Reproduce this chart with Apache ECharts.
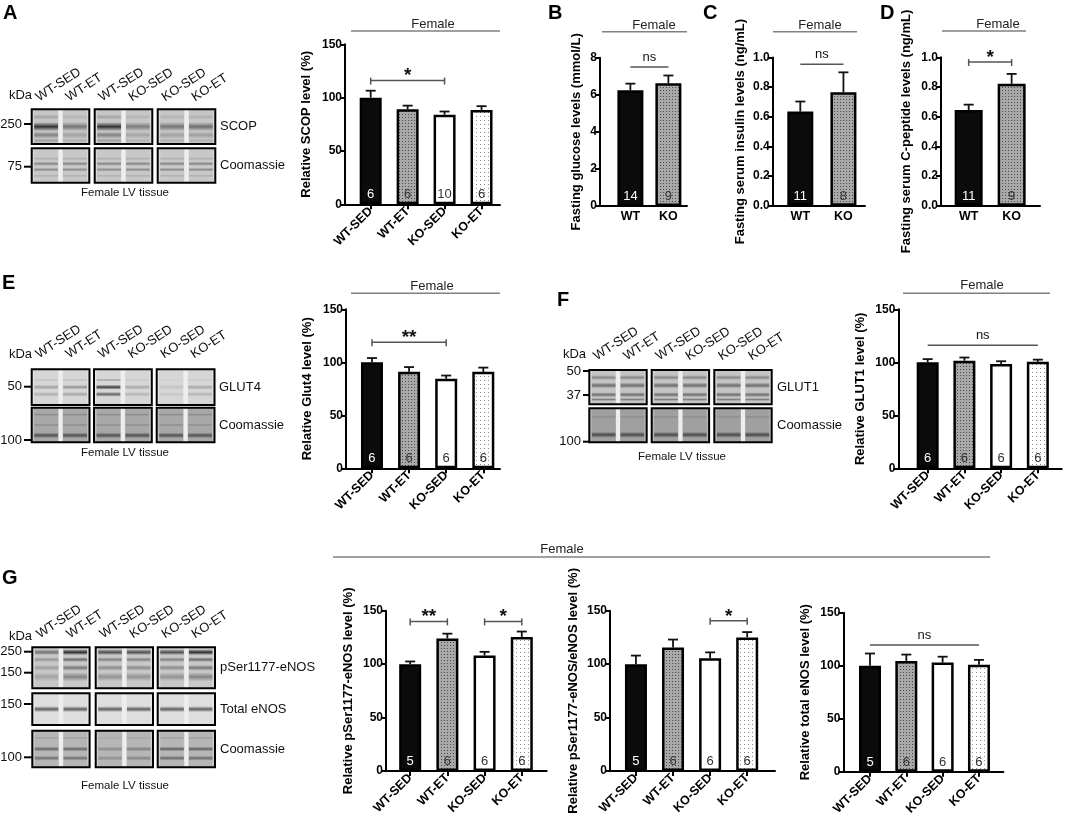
<!DOCTYPE html>
<html><head><meta charset="utf-8">
<script src="https://cdn.jsdelivr.net/npm/echarts@6.0.0/dist/echarts.min.js"></script>
<style>html,body{margin:0;padding:0;background:#fff}#c{width:1065px;height:824px}</style>
</head><body><div id="c"></div>
<script>
// ---------------- DATA ----------------
const cats4 = ['WT-SED', 'WT-ET', 'KO-SED', 'KO-ET'];
const cats2 = ['WT', 'KO'];

const scopMean = [100, 89, 84, 88.5];
const scopSem = [6.5, 3.5, 3, 3.5];
const scopN = [6, 6, 10, 6];

const glucoseMean = [6.25, 6.62];
const glucoseSem = [0.35, 0.42];
const glucoseN = [14, 9];

const insulinMean = [0.635, 0.765];
const insulinSem = [0.068, 0.135];
const insulinN = [11, 8];

const cpepMean = [0.645, 0.822];
const cpepSem = [0.036, 0.066];
const cpepN = [11, 9];

const glut4Mean = [100, 91, 84.5, 91];
const glut4Sem = [4, 4.5, 3, 4];
const glut4N = [6, 6, 6, 6];

const glut1Mean = [100, 101.5, 98.5, 100.5];
const glut1Sem = [3, 3, 2.5, 2];
const glut1N = [6, 6, 6, 6];

const peNOSMean = [100, 124, 108, 125.5];
const peNOSSem = [2.5, 4.5, 3.5, 5];
const peNOSN = [5, 6, 6, 6];

const ratioMean = [100, 115.5, 105.5, 125];
const ratioSem = [8, 7.5, 5.5, 5];
const ratioN = [5, 6, 6, 6];

const teNOSMean = [100, 104.5, 103, 101];
const teNOSSem = [11.5, 6, 5.5, 4.5];
const teNOSN = [5, 6, 6, 6];

// significance: [fromIndex, toIndex, yValue, text, endTicks]
const sigA = [[0, 2, 116, '*', true]];
const sigB = [[0, 1, 7.5, 'ns', false]];
const sigC = [[0, 1, 0.955, 'ns', false]];
const sigD = [[0, 1, 0.968, '*', true]];
const sigE = [[0, 2, 119, '**', true]];
const sigF = [[0, 3, 116, 'ns', false]];
const sigG1 = [[0, 1, 140, '**', true], [2, 3, 140, '*', true]];
const sigG2 = [[2, 3, 140.5, '*', true]];
const sigG3 = [[0, 3, 119.5, 'ns', false]];

const laneLabels = ['WT-SED', 'WT-ET', 'WT-SED', 'KO-SED', 'KO-SED', 'KO-ET'];

// ---------------- STYLE ----------------
const FONT = "'Liberation Sans', Arial, Helvetica, sans-serif";
function pattern(bg, dot, step) {
  const c = document.createElement('canvas');
  c.width = c.height = step;
  const g = c.getContext('2d');
  g.fillStyle = bg; g.fillRect(0, 0, step, step);
  g.fillStyle = dot; g.fillRect(0, 0, 1, 1);
  return { image: c, repeat: 'repeat' };
}
const BLACK = '#0b0b0b';
const DARK = pattern('#a9a9a9', '#4a4a4a', 3);
const WHITE = '#ffffff';
const LIGHT = pattern('#ffffff', '#8a8a8a', 4);
const fill4 = [BLACK, DARK, WHITE, LIGHT];
const fill2 = [BLACK, DARK];

const panels = [
  { cats: cats4, mean: scopMean, sem: scopSem, n: scopN, sig: sigA, fills: fill4, title: 'Relative SCOP level (%)', yMax: 150, yStep: 50, dec: 0, l: 345, r: 500, t: 44.3, b: 204.3, xMin: -0.695, xMax: 3.5, bw: 22, gap: 32 },
  { cats: cats2, mean: glucoseMean, sem: glucoseSem, n: glucoseN, sig: sigB, fills: fill2, title: 'Fasting glucose levels (mmol/L)', yMax: 8, yStep: 2, dec: 0, l: 600, r: 687, t: 57.7, b: 206, xMin: -0.8, xMax: 1.49, bw: 26, gap: 17 },
  { cats: cats2, mean: insulinMean, sem: insulinSem, n: insulinN, sig: sigC, fills: fill2, title: 'Fasting serum insulin levels (ng/mL)', yMax: 1.0, yStep: 0.2, dec: 1, l: 772.7, r: 865, t: 57.5, b: 205.7, xMin: -0.64, xMax: 1.5, bw: 26, gap: 26 },
  { cats: cats2, mean: cpepMean, sem: cpepSem, n: cpepN, sig: sigD, fills: fill2, title: 'Fasting serum C-peptide levels (ng/mL)', yMax: 1.0, yStep: 0.2, dec: 1, l: 941, r: 1040, t: 57.3, b: 205.7, xMin: -0.644, xMax: 1.66, bw: 28, gap: 28 },
  { cats: cats4, mean: glut4Mean, sem: glut4Sem, n: glut4N, sig: sigE, fills: fill4, title: 'Relative Glut4 level (%)', yMax: 150, yStep: 50, dec: 0, l: 346, r: 500, t: 309.3, b: 468.3, xMin: -0.7, xMax: 3.45, bw: 22, gap: 32 },
  { cats: cats4, mean: glut1Mean, sem: glut1Sem, n: glut1N, sig: sigF, fills: fill4, title: 'Relative GLUT1 level (%)', yMax: 150, yStep: 50, dec: 0, l: 898.3, r: 1061.7, t: 309.3, b: 468.3, xMin: -0.8, xMax: 3.65, bw: 22, gap: 31 },
  { cats: cats4, mean: peNOSMean, sem: peNOSSem, n: peNOSN, sig: sigG1, fills: fill4, title: 'Relative pSer1177-eNOS level (%)', yMax: 150, yStep: 50, dec: 0, l: 386, r: 546.7, t: 610.7, b: 771, xMin: -0.65, xMax: 3.67, bw: 22, gap: 31 },
  { cats: cats4, mean: ratioMean, sem: ratioSem, n: ratioN, sig: sigG2, fills: fill4, title: 'Relative pSer1177-eNOS/eNOS level (%)', yMax: 150, yStep: 50, dec: 0, l: 610, r: 775, t: 610.7, b: 771, xMin: -0.7, xMax: 3.75, bw: 22, gap: 30 },
  { cats: cats4, mean: teNOSMean, sem: teNOSSem, n: teNOSN, sig: sigG3, fills: fill4, title: 'Relative total eNOS level (%)', yMax: 150, yStep: 50, dec: 0, l: 843.3, r: 1003.3, t: 612.7, b: 771.7, xMin: -0.735, xMax: 3.67, bw: 22, gap: 31 }
];

const grid = [], xAxis = [], yAxis = [], series = [];
panels.forEach((p, i) => {
  const four = p.cats.length === 4;
  const idx = p.cats.map((_, k) => k);
  grid.push({ left: p.l, top: p.t, width: p.r - p.l, height: p.b - p.t, containLabel: false, outerBoundsMode: 'none' });
  xAxis.push({
    type: 'value', gridIndex: i, min: p.xMin, max: p.xMax,
    axisLine: { show: true, onZero: false, lineStyle: { color: '#000', width: 2 } },
    axisTick: { show: four, customValues: idx, length: 5, lineStyle: { color: '#000', width: 2 } },
    axisLabel: { customValues: idx, formatter: v => p.cats[Math.round(v)], rotate: four ? 45 : 0, margin: four ? 5 : 4,
      fontFamily: FONT, fontSize: 12.5, fontWeight: 'bold', color: '#000' },
    splitLine: { show: false }
  });
  yAxis.push({
    type: 'value', gridIndex: i, min: 0, max: p.yMax, interval: p.yStep,
    axisLine: { show: true, onZero: false, lineStyle: { color: '#000', width: 2 } },
    axisTick: { show: true, length: 5, lineStyle: { color: '#000', width: 2 } },
    axisLabel: { fontFamily: FONT, fontSize: 12, fontWeight: 'bold', color: '#000', margin: 3,
      formatter: v => v.toFixed(p.dec) },
    splitLine: { show: false },
    name: p.title, nameLocation: 'middle', nameGap: p.gap,
    nameTextStyle: { fontFamily: FONT, fontSize: 13, fontWeight: 'bold', color: '#000' }
  });
  series.push({
    type: 'bar', xAxisIndex: i, yAxisIndex: i, barWidth: p.bw, z: 3,
    itemStyle: { borderColor: '#000', borderWidth: 2.5 },
    label: { show: true, position: 'insideBottom', distance: 3, fontFamily: FONT, fontSize: 13,
      formatter: prm => String(p.n[prm.dataIndex]) },
    data: p.mean.map((v, k) => ({ value: [k, v], itemStyle: { color: p.fills[k] },
      label: { color: k === 0 ? '#ffffff' : '#333333' } }))
  });
  series.push({
    type: 'custom', xAxisIndex: i, yAxisIndex: i, z: 2,
    encode: { x: 0, y: 1 },
    data: p.mean.map((v, k) => [k, v, p.sem[k]]),
    renderItem: (params, api) => {
      const x = api.value(0), m = api.value(1), e = api.value(2);
      const p0 = api.coord([x, m]), p1 = api.coord([x, m + e]);
      const st = { stroke: '#111', lineWidth: 1.8 };
      return { type: 'group', children: [
        { type: 'line', shape: { x1: p0[0], y1: p0[1], x2: p1[0], y2: p1[1] }, style: st },
        { type: 'line', shape: { x1: p1[0] - 5, y1: p1[1], x2: p1[0] + 5, y2: p1[1] }, style: st }
      ] };
    }
  });
  series.push({
    type: 'custom', xAxisIndex: i, yAxisIndex: i, z: 4,
    encode: { x: [0, 1], y: 2 },
    data: p.sig.map(s => [s[0], s[1], s[2]]),
    renderItem: (params, api) => {
      const s = p.sig[params.dataIndex];
      const a = api.coord([s[0], s[2]]), b = api.coord([s[1], s[2]]);
      const st = { stroke: '#555', lineWidth: 1.5 };
      const ch = [{ type: 'line', shape: { x1: a[0], y1: a[1], x2: b[0], y2: b[1] }, style: st }];
      if (s[4]) {
        ch.push({ type: 'line', shape: { x1: a[0], y1: a[1] - 3, x2: a[0], y2: a[1] + 4 }, style: st });
        ch.push({ type: 'line', shape: { x1: b[0], y1: b[1] - 3, x2: b[0], y2: b[1] + 4 }, style: st });
      }
      const star = s[3] !== 'ns';
      ch.push({ type: 'text', x: (a[0] + b[0]) / 2, y: a[1] + (star ? 5 : -3),
        style: { text: s[3], textAlign: 'center', textVerticalAlign: 'bottom',
          font: star ? `bold 19px ${FONT}` : `13px ${FONT}`, fill: '#111' } });
      return { type: 'group', children: ch };
    }
  });
});

// ---------------- GRAPHICS (letters, headers, blots) ----------------
const els = [];
function txt(text, x, y, o = {}) {
  els.push({ type: 'text', x, y, rotation: o.rot || 0,
    style: { text, font: `${o.weight || 'normal'} ${o.size || 13}px ${FONT}`, fill: o.fill || '#111',
      textAlign: o.align || 'left', textVerticalAlign: o.va || 'middle' } });
}
function line(x1, y1, x2, y2, stroke, w) {
  els.push({ type: 'line', shape: { x1, y1, x2, y2 }, style: { stroke, lineWidth: w } });
}
[['A', 3, 3], ['B', 548, 3], ['C', 703, 3], ['D', 880, 3], ['E', 2, 273], ['F', 557, 290], ['G', 2, 568]]
  .forEach(([t, x, y]) => txt(t, x, y, { weight: 'bold', size: 20, va: 'top', fill: '#000' }));

[[433, 24, 351, 500, 31], [654, 25, 602, 687, 31.7], [820, 25, 773, 857, 31.7], [998, 24, 942, 1026, 31],
 [432, 286.7, 351, 500, 293.3], [982, 285.7, 903, 1050, 293.3], [562, 549, 333, 990, 557]]
  .forEach(([tx, ty, x1, x2, ly]) => { txt('Female', tx, ty, { align: 'center', fill: '#222' }); line(x1, ly, x2, ly, '#808080', 1.5); });

const kinds = {
  scop: { bg: '#d6d6d6', lane: '#c6c6c6', bands: [[0.22, 5, 0.2], [0.5, 9, 0.85], [0.74, 7, 0.4], [0.9, 5, 0.2]], dark: [[1, 0.55], [1, 0.5], [0.55, 0.6]] },
  coomA: { bg: '#d8d8d8', lane: '#c8c8c8', bands: [[0.3, 3, 0.15], [0.45, 4, 0.4], [0.62, 4, 0.35], [0.8, 3, 0.15]] },
  glut4: { bg: '#e2e2e2', lane: '#d6d6d6', bands: [[0.3, 3, 0.12], [0.5, 5, 0.35], [0.7, 5, 0.25]], dark: [[0.8, 1], [2.4, 0.7], [0.3, 0.7]] },
  coomE: { bg: '#bdbdbd', lane: '#a8a8a8', bands: [[0.2, 3, 0.2], [0.5, 3, 0.2], [0.8, 6, 0.6]] },
  glut1: { bg: '#d6d6d6', lane: '#c4c4c4', bands: [[0.22, 5, 0.35], [0.45, 6, 0.5], [0.72, 5, 0.5], [0.86, 3, 0.4]] },
  coomF: { bg: '#b4b4b4', lane: '#a0a0a0', bands: [[0.25, 3, 0.15], [0.78, 6, 0.65]] },
  pser: { bg: '#dadada', lane: '#c8c8c8', bands: [[0.12, 6, 0.7], [0.3, 5, 0.4], [0.5, 6, 0.35], [0.72, 9, 0.3]], dark: [[0.7, 1.3], [1, 1], [1, 1.3]] },
  tenos: { bg: '#e8e8e8', lane: '#dedede', bands: [[0.5, 6, 0.65]] },
  coomG: { bg: '#cacaca', lane: '#b6b6b6', bands: [[0.2, 3, 0.15], [0.5, 5, 0.5], [0.75, 5, 0.45]], dark: [[1, 1], [0.55, 0.7], [1.1, 1.1]] }
};
function bandFill(d) {
  return { type: 'linear', x: 0, y: 0, x2: 0, y2: 1, colorStops: [
    { offset: 0, color: 'rgba(25,25,25,0)' }, { offset: 0.5, color: `rgba(25,25,25,${d})` }, { offset: 1, color: 'rgba(25,25,25,0)' }] };
}
function blot(c) {
  c.rows.forEach(row => {
    const k = kinds[row.kind];
    c.boxX.forEach((bx, bi) => {
      els.push({ type: 'rect', shape: { x: bx, y: row.y, width: c.boxW, height: row.h }, style: { fill: k.bg } });
      for (let ln = 0; ln < 2; ln++) {
        const lx = bx + 2.5 + ln * c.boxW / 2, lw = c.boxW / 2 - 5;
        els.push({ type: 'rect', shape: { x: lx, y: row.y, width: lw, height: row.h }, style: { fill: k.lane } });
        k.bands.forEach(([ry, th, a]) => {
          const d = Math.min(0.95, a * (k.dark ? k.dark[bi][ln] : 1));
          els.push({ type: 'rect', shape: { x: lx, y: row.y + ry * row.h - th / 2, width: lw, height: th }, style: { fill: bandFill(d) } });
        });
      }
      els.push({ type: 'rect', shape: { x: bx + c.boxW / 2 - 2, y: row.y, width: 4, height: row.h }, style: { fill: '#eeeeee' } });
      els.push({ type: 'rect', shape: { x: bx, y: row.y, width: c.boxW, height: row.h }, style: { fill: 'none', stroke: '#000', lineWidth: 2 } });
    });
    txt(row.label, c.rightX, row.y + row.h / 2, {});
  });
  c.markers.forEach(([t, y]) => { txt(t, c.mRight, y, { align: 'right' }); line(c.mRight + 2, y, c.boxX[0], y, '#000', 2); });
  txt('kDa', c.kda[0], c.kda[1], { align: 'right' });
  c.boxX.forEach((bx, bi) => {
    [0, 1].forEach(j => txt(laneLabels[bi * 2 + j], bx + 9 + j * 30, c.laneY, { rot: 33 * Math.PI / 180, va: 'bottom' }));
  });
  txt('Female LV tissue', c.tissue[0], c.tissue[1], { align: 'center', size: 11.5 });
}
blot({ boxX: [31.7, 94.7, 157.7], boxW: 57.6,
  rows: [{ y: 109.3, h: 34.7, kind: 'scop', label: 'SCOP' }, { y: 148.3, h: 34.4, kind: 'coomA', label: 'Coomassie' }],
  markers: [['250', 124], ['75', 166.7]], mRight: 22, kda: [32, 95], laneY: 104, rightX: 220, tissue: [125, 193] });
blot({ boxX: [31.7, 94, 156.7], boxW: 57.8,
  rows: [{ y: 369.3, h: 35.7, kind: 'glut4', label: 'GLUT4' }, { y: 407.7, h: 34.6, kind: 'coomE', label: 'Coomassie' }],
  markers: [['50', 386.7], ['100', 440]], mRight: 22, kda: [32, 354], laneY: 361, rightX: 219, tissue: [125, 453] });
blot({ boxX: [589.3, 651.7, 714.3], boxW: 57.4,
  rows: [{ y: 370, h: 34.3, kind: 'glut1', label: 'GLUT1' }, { y: 408.3, h: 34, kind: 'coomF', label: 'Coomassie' }],
  markers: [['50', 371], ['37', 395], ['100', 441.7]], mRight: 581, kda: [586, 354], laneY: 363, rightX: 777, tissue: [682, 456.7] });
blot({ boxX: [32.3, 95.7, 157.7], boxW: 57.3,
  rows: [{ y: 647.3, h: 41, kind: 'pser', label: 'pSer1177-eNOS' }, { y: 693.3, h: 31.7, kind: 'tenos', label: 'Total eNOS' }, { y: 730.7, h: 36.6, kind: 'coomG', label: 'Coomassie' }],
  markers: [['250', 651.7], ['150', 672.7], ['150', 704], ['100', 757.3]], mRight: 22, kda: [32, 636.7], laneY: 641, rightX: 220, tissue: [125, 786] });

const chart = echarts.init(document.getElementById('c'), null, { renderer: 'canvas' });
chart.setOption({
  animation: false,
  backgroundColor: '#ffffff',
  textStyle: { fontFamily: FONT },
  grid, xAxis, yAxis, series,
  graphic: { elements: els }
});
</script></body></html>
